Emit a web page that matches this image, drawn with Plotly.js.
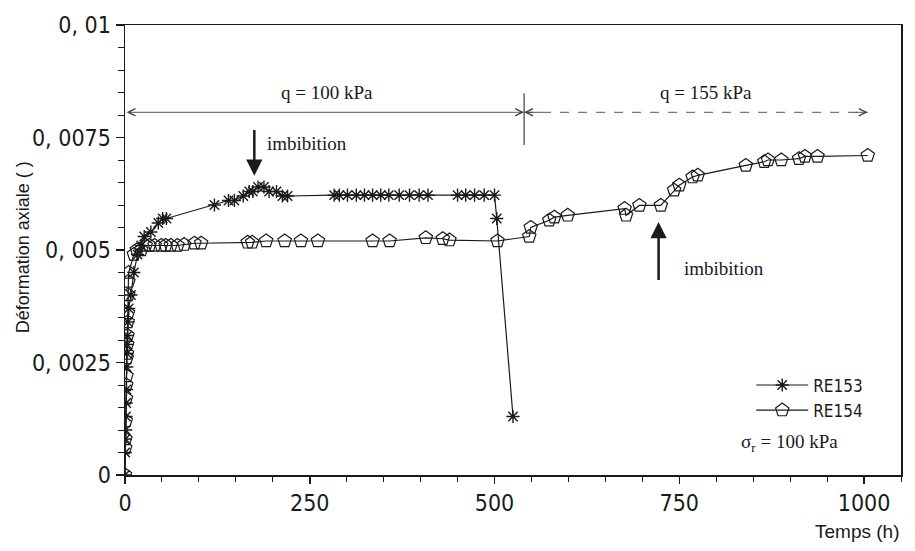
<!DOCTYPE html>
<html>
<head>
<meta charset="utf-8">
<script src="https://cdn.plot.ly/plotly-3.0.1.min.js"></script>
<style>html,body{margin:0;padding:0;background:#fff;}#chart{width:915px;height:551px;}</style>
</head>
<body>
<div id="chart"></div>
<script>
// RE153 : temps (h) / déformation axiale
const t153 = [0, 0.3, 0.6, 1, 1.3, 1.6, 2, 2.3, 2.6, 3, 3.5, 4, 5,
  8, 12, 17, 22, 26, 35, 45, 51, 56,
  121, 140, 148, 160, 168, 173, 180, 188, 195, 205, 213, 220,
  283, 290, 301, 313, 324, 335, 346, 357, 371, 385, 398, 410,
  450, 461, 473, 486, 500, 503, 525];
const e153 = [0, 0.0005, 0.0008, 0.001, 0.0013, 0.0016, 0.0019, 0.0024, 0.0027, 0.0029, 0.0031, 0.0034, 0.0037,
  0.0040, 0.0045, 0.0049, 0.0051, 0.0053, 0.0054, 0.0056, 0.0057, 0.0057,
  0.0060, 0.0061, 0.0061, 0.0062, 0.0063, 0.0063, 0.0064, 0.0064, 0.0063, 0.0063, 0.0062, 0.0062,
  0.00622, 0.00622, 0.00622, 0.00622, 0.00622, 0.00622, 0.00622, 0.00622, 0.00622, 0.00622, 0.00622, 0.00622,
  0.00622, 0.00622, 0.00622, 0.00622, 0.00622, 0.0057, 0.0013];

// RE154
const t154 = [0, 0.3, 0.6, 1, 1.3, 1.6, 2, 2.3, 2.6, 3, 3.3, 3.6, 4, 4.3, 4.6,
  5, 12, 16, 22, 28, 33, 40, 49, 55, 62, 71, 80, 94, 103,
  166, 172, 191, 216, 238, 261, 335, 358, 407, 430, 439, 504,
  547, 549, 574, 581, 599, 676, 678, 696, 725, 743, 750, 768, 775,
  840, 865, 870, 888, 912, 920, 937, 1005];
const e154 = [0, 0.0006, 0.0008, 0.0012, 0.0017, 0.0020, 0.0022, 0.0026, 0.0027, 0.0029, 0.0031, 0.0034, 0.0036, 0.0040, 0.0043,
  0.0045, 0.0049, 0.0050, 0.0050, 0.0051, 0.0051, 0.0051, 0.0051, 0.0051, 0.0051, 0.0051, 0.00512, 0.00515, 0.00515,
  0.00517, 0.00517, 0.0052, 0.0052, 0.0052, 0.0052, 0.0052, 0.0052, 0.00527, 0.00525, 0.00522, 0.0052,
  0.0053, 0.0055, 0.00566, 0.00573, 0.00577, 0.00592, 0.00577, 0.00599, 0.00599, 0.00633, 0.00644, 0.00662, 0.00666,
  0.00688, 0.00696, 0.007, 0.007, 0.00703, 0.00708, 0.00708, 0.0071];

const yTickVals = [0, 0.0025, 0.005, 0.0075, 0.01];
const yTickText = ['0', '0, 0025', '0, 005', '0, 0075', '0, 01'];
const xTickVals = [0, 250, 500, 750, 1000];
const xTickText = ['0', '250', '500', '750', '1000'];

const ink = '#1a1a1a';
const tickFont = {family: 'DejaVu Sans Condensed, Liberation Sans Narrow, sans-serif', size: 23, color: ink};
const serif = {family: 'Liberation Serif, Times New Roman, serif', size: 19, color: ink};
const sans = {family: 'Liberation Sans, Arial, sans-serif', size: 18, color: ink};

const traces = [
  {x: t153, y: e153, name: 'RE153', mode: 'lines+markers', type: 'scatter',
   line: {color: ink, width: 1.2},
   marker: {symbol: 'asterisk-open', size: 11, color: ink, line: {color: ink, width: 1.4}}},
  {x: t154, y: e154, name: 'RE154', mode: 'lines+markers', type: 'scatter',
   line: {color: ink, width: 1.2},
   marker: {symbol: 'pentagon-open', size: 14, color: ink, line: {color: ink, width: 1.2}}}
];

const layout = {
  width: 915, height: 551,
  margin: {l: 125, r: 14, t: 25, b: 76},
  paper_bgcolor: '#fff', plot_bgcolor: '#fff',
  showlegend: true,
  legend: {x: 0.807, y: 0.239, xanchor: 'left', yanchor: 'top', bgcolor: 'rgba(0,0,0,0)',
           font: {family: 'DejaVu Sans Condensed, Liberation Sans Narrow, sans-serif', size: 17, color: ink},
           itemwidth: 52, tracegroupgap: 0},
  xaxis: {range: [0, 1050], tickvals: xTickVals, ticktext: xTickText, tickfont: tickFont,
          ticks: 'outside', ticklen: 7, tickwidth: 1.5, tickcolor: ink,
          minor: {dtick: 50, ticks: 'outside', ticklen: 5, tickwidth: 1, tickcolor: ink},
          showline: true, linecolor: ink, linewidth: 1.5, mirror: true, showgrid: false, zeroline: false},
  yaxis: {range: [0, 0.01], tickvals: yTickVals, ticktext: yTickText, tickfont: tickFont,
          ticks: 'outside', ticklen: 8, tickwidth: 1.5, tickcolor: ink,
          minor: {dtick: 0.0005, ticks: 'outside', ticklen: 6, tickwidth: 1, tickcolor: ink},
          showline: true, linecolor: ink, linewidth: 1.5, mirror: true, showgrid: false, zeroline: false},
  shapes: [
    {type: 'line', xref: 'x', yref: 'y', x0: 540, x1: 540, y0: 0.00733, y1: 0.00848, line: {color: ink, width: 1}},
    {type: 'line', xref: 'x', yref: 'y', x0: 540, x1: 1005, y0: 0.00806, y1: 0.00806, line: {color: '#555', width: 1, dash: 'dash'}}
  ],
  annotations: [
    {x: 540, y: 0.00806, ax: 0, ay: 0.00806, axref: 'x', ayref: 'y', xref: 'x', yref: 'y', text: '',
     showarrow: true, arrowside: 'end+start', arrowhead: 5, startarrowhead: 5, arrowsize: 1.6, startarrowsize: 1.6,
     arrowwidth: 0.9, arrowcolor: '#444'},
    {x: 540, y: 0.00806, ax: 20, ay: 0, xref: 'x', yref: 'y', text: '', showarrow: true, arrowhead: 5,
     arrowsize: 1.6, arrowwidth: 0.9, arrowcolor: '#444'},
    {x: 1005, y: 0.00806, ax: -14, ay: 0, xref: 'x', yref: 'y', text: '', showarrow: true, arrowhead: 5,
     arrowsize: 1.6, arrowwidth: 0.9, arrowcolor: '#444'},
    {x: 273, y: 0.00849, xref: 'x', yref: 'y', text: 'q = 100 kPa', showarrow: false, font: serif},
    {x: 786, y: 0.00849, xref: 'x', yref: 'y', text: 'q = 155 kPa', showarrow: false, font: serif},
    {x: 175, y: 0.00665, ax: 175, ay: 0.0077, axref: 'x', ayref: 'y', xref: 'x', yref: 'y', text: '',
     showarrow: true, arrowhead: 2, arrowsize: 1.3, arrowwidth: 2.5, arrowcolor: ink},
    {x: 189, y: 0.00737, xref: 'x', yref: 'y', xanchor: 'left', text: 'imbibition', showarrow: false, font: serif},
    {x: 722, y: 0.00562, ax: 722, ay: 0.0043, axref: 'x', ayref: 'y', xref: 'x', yref: 'y', text: '',
     showarrow: true, arrowhead: 2, arrowsize: 1.3, arrowwidth: 2.5, arrowcolor: ink},
    {x: 753, y: 0.00459, xref: 'x', yref: 'y', xanchor: 'left', text: 'imbibition', showarrow: false, font: serif},
    {x: 831, y: 0.00071, xref: 'x', yref: 'y', xanchor: 'left', text: 'σ<sub>r</sub> = 100 kPa', showarrow: false, font: serif},
    {x: 1, y: -0.125, xref: 'paper', yref: 'paper', xanchor: 'right', yanchor: 'middle', text: 'Temps (h)',
     showarrow: false, font: {family: 'Liberation Sans, Arial, sans-serif', size: 19, color: ink}},
    {x: -0.132, y: 0.505, xref: 'paper', yref: 'paper', xanchor: 'center', yanchor: 'middle', textangle: -90,
     text: 'Déformation axiale ( )', showarrow: false, font: sans}
  ]
};

Plotly.newPlot('chart', traces, layout, {staticPlot: true, displayModeBar: false});
</script>
</body>
</html>
